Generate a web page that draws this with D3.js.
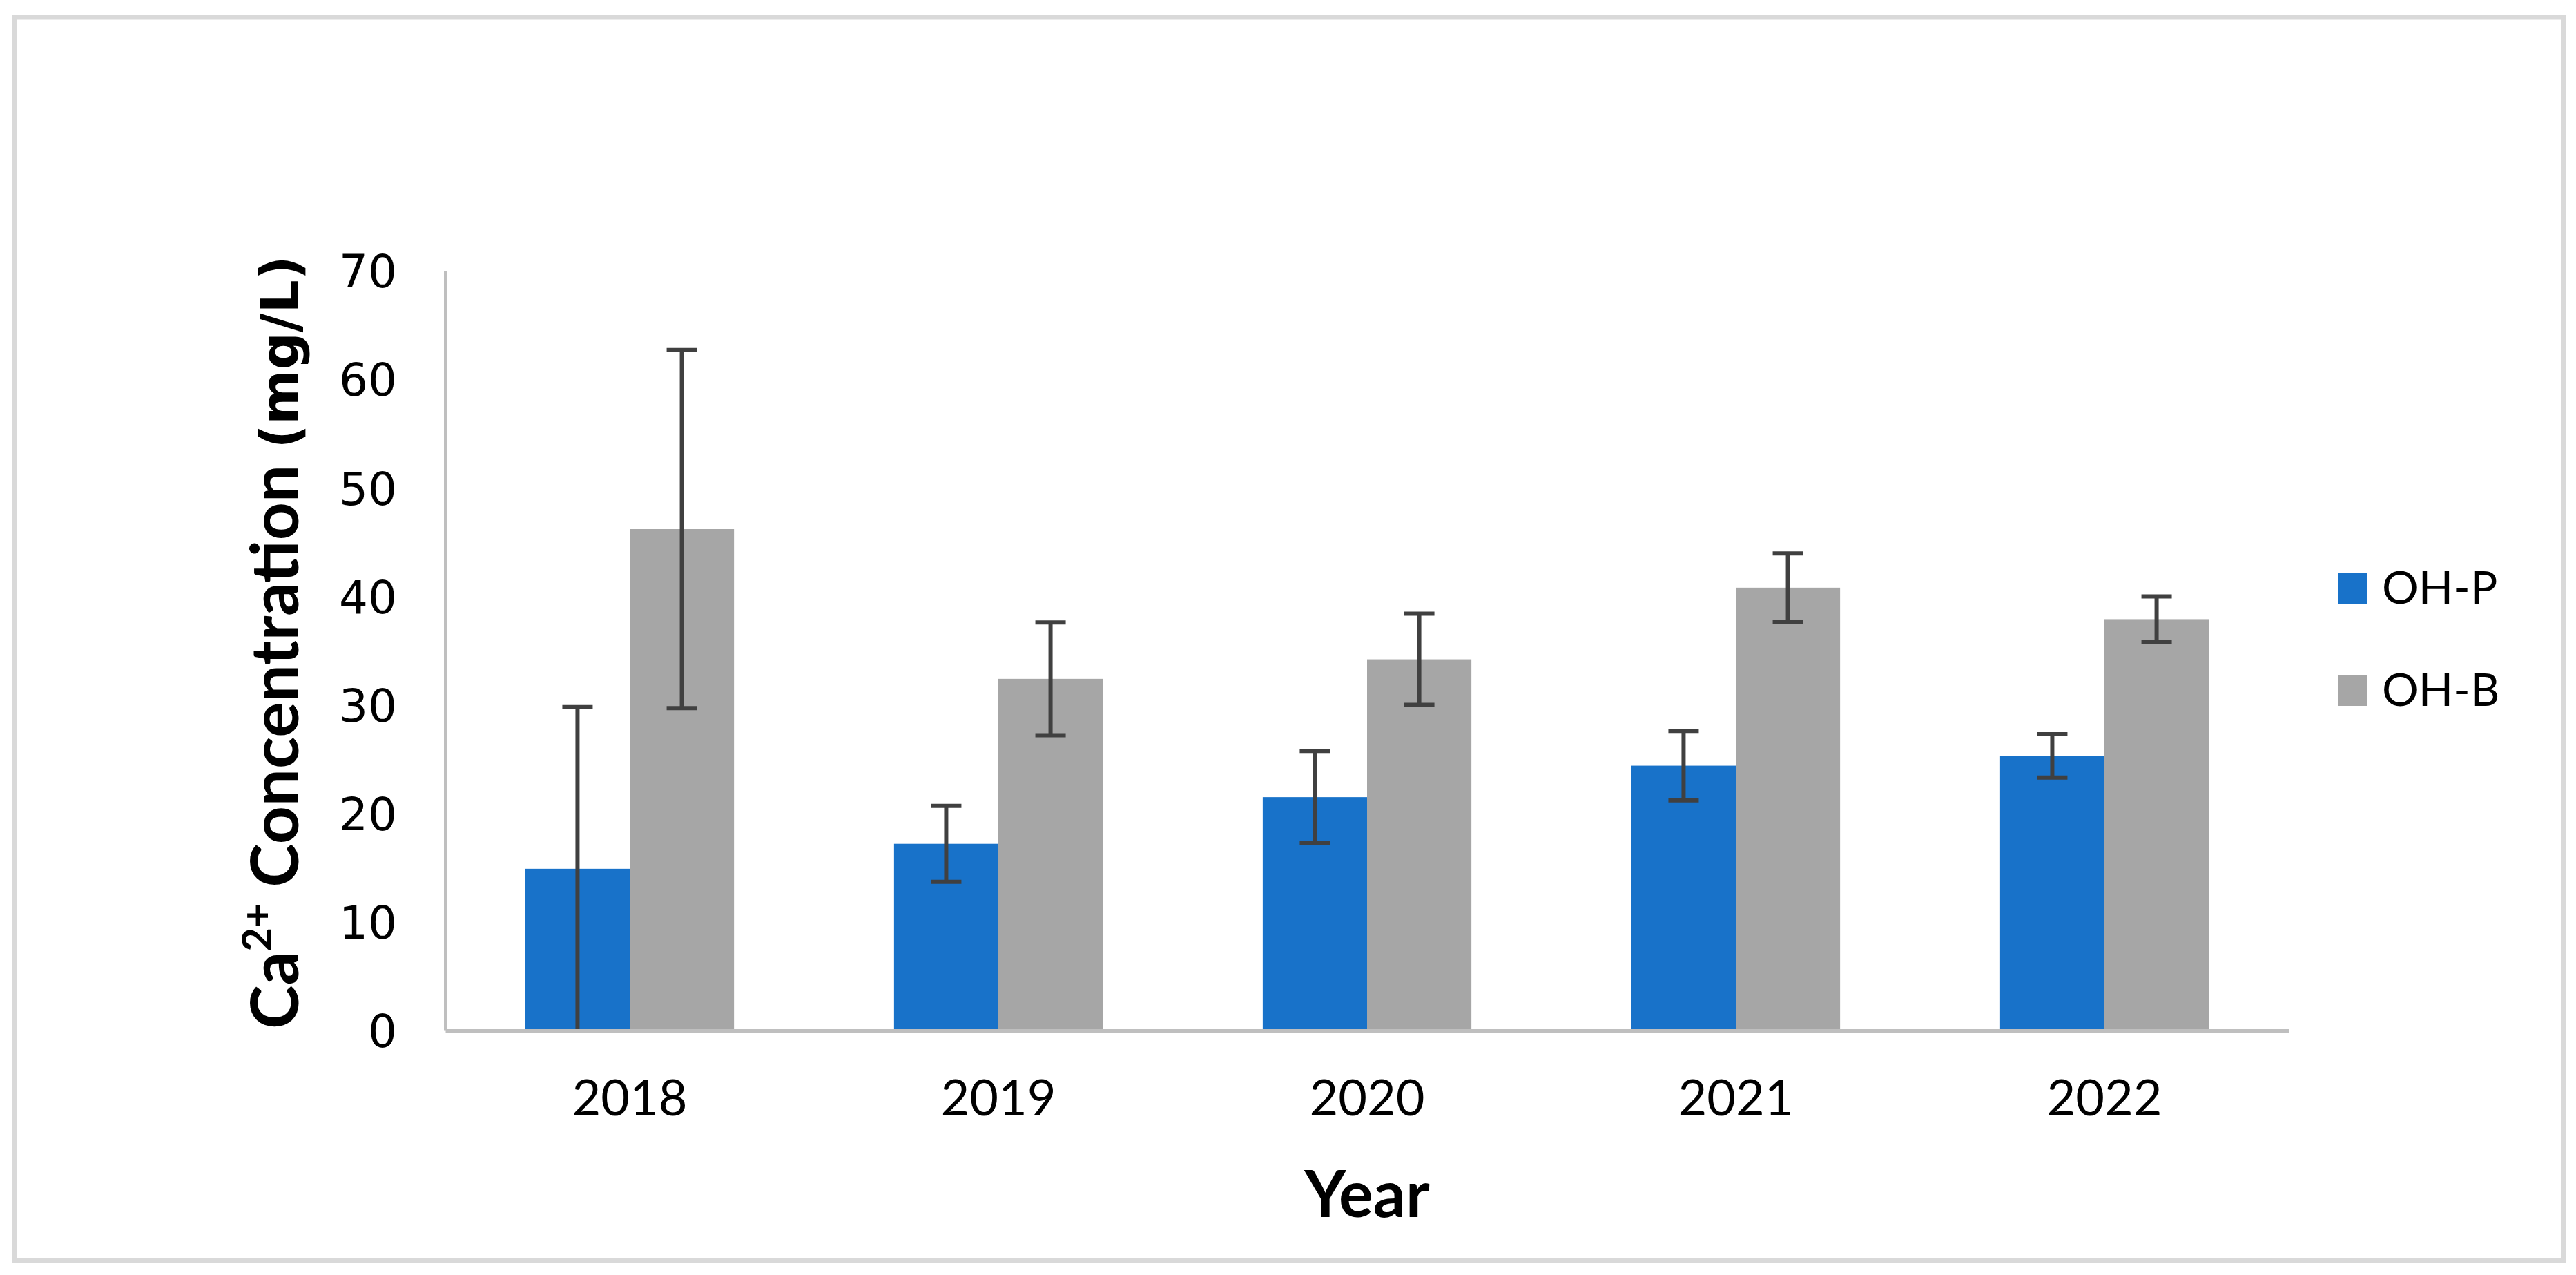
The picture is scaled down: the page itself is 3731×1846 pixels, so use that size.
<!DOCTYPE html>
<html>
<head>
<meta charset="utf-8">
<script src="https://cdn.jsdelivr.net/npm/d3@7"></script>
<style>
  html, body { margin: 0; padding: 0; background: #ffffff; }
  svg { display: block; }
</style>
</head>
<body>
<script>
// ---- data ----
const years = ["2018", "2019", "2020", "2021", "2022"];
const seriesNames = ["OH-P", "OH-B"];
const ohP = [14.9, 17.2, 21.5, 24.4, 25.3];
const ohPErr = [14.9, 3.5, 4.25, 3.2, 2.0];
const ohB = [46.2, 32.4, 34.2, 40.8, 37.9];
const ohBErr = [16.5, 5.2, 4.2, 3.15, 2.1];
const yTicks = [0, 10, 20, 30, 40, 50, 60, 70];
const seriesColors = ["#1872c9", "#a6a6a6"];

const W = 3731, H = 1846;
const plot = { left: 645, right: 3315, top: 392, bottom: 1492 };

const svg = d3.select("body").append("svg")
  .attr("width", W).attr("height", H);

svg.append("rect").attr("width", W).attr("height", H).attr("fill", "#ffffff");
// outer frame
svg.append("rect")
  .attr("x", 21.5).attr("y", 25).attr("width", 3712.5 - 21.5).attr("height", 1825.5 - 25)
  .attr("fill", "none").attr("stroke", "#d9d9d9").attr("stroke-width", 7);

const x = d3.scaleBand().domain(years).range([plot.left, plot.right])
  .paddingInner(0.434).paddingOuter(0.217);
const xs = d3.scaleBand().domain(seriesNames).range([0, x.bandwidth()]);
const y = d3.scaleLinear().domain([0, 70]).range([plot.bottom, plot.top]);

const data = [];
years.forEach((yr, i) => {
  data.push({ year: yr, s: "OH-P", v: ohP[i], e: ohPErr[i], c: seriesColors[0] });
  data.push({ year: yr, s: "OH-B", v: ohB[i], e: ohBErr[i], c: seriesColors[1] });
});

// bars
svg.append("g").selectAll("rect").data(data).join("rect")
  .attr("x", d => x(d.year) + xs(d.s))
  .attr("width", xs.bandwidth())
  .attr("y", d => y(d.v))
  .attr("height", d => y(0) - y(d.v))
  .attr("fill", d => d.c);

// error bars
const capW = 44;
const eg = svg.append("g").attr("stroke", "#404040").attr("stroke-width", 6);
data.forEach(d => {
  const cx = x(d.year) + xs(d.s) + xs.bandwidth() / 2;
  const lo = Math.max(0, d.v - d.e), hi = d.v + d.e;
  eg.append("line").attr("x1", cx).attr("x2", cx).attr("y1", y(lo)).attr("y2", y(hi));
  eg.append("line").attr("x1", cx - capW / 2).attr("x2", cx + capW / 2).attr("y1", y(hi)).attr("y2", y(hi));
  if (d.v - d.e > 0.05) {
    eg.append("line").attr("x1", cx - capW / 2).attr("x2", cx + capW / 2).attr("y1", y(lo)).attr("y2", y(lo));
  }
});

// axes
const yAxis = d3.axisLeft(y).tickValues(yTicks).tickSize(0).tickPadding(70);
const gy = svg.append("g").attr("transform", `translate(${plot.left},0)`).call(yAxis);
gy.select(".domain").attr("stroke", "#bfbfbf").attr("stroke-width", 5);
gy.selectAll("text")
  .attr("font-family", "'DejaVu Sans', sans-serif")
  .attr("font-size", 66).attr("fill", "#000").attr("dy", "0.36em");

const xAxis = d3.axisBottom(x).tickSize(0).tickPadding(0);
const gx = svg.append("g").attr("transform", `translate(0,${plot.bottom})`).call(xAxis);
gx.select(".domain").attr("stroke", "#bfbfbf").attr("stroke-width", 5);
gx.selectAll("text")
  .attr("font-family", "Lato, sans-serif")
  .attr("font-size", 72).attr("fill", "#000")
  .attr("dy", null).attr("y", 1615 - plot.bottom);

// x title
svg.append("text")
  .attr("x", (plot.left + plot.right) / 2).attr("y", 1762)
  .attr("text-anchor", "middle")
  .attr("font-family", "Lato, sans-serif").attr("font-weight", "bold")
  .attr("font-size", 93).attr("fill", "#000")
  .text("Year");

// y title
const yt = svg.append("text")
  .attr("transform", "translate(432,1490) rotate(-90)")
  .attr("font-family", "Lato, sans-serif").attr("font-weight", "bold")
  .attr("font-size", 96).attr("fill", "#000");
yt.append("tspan").text("Ca");
yt.append("tspan").attr("font-size", 60).attr("dy", -39).text("2+");
yt.append("tspan").attr("dy", 39).text(" Concentration ");
yt.append("tspan").attr("font-family", "'DejaVu Sans', sans-serif").attr("font-size", 76).text("(mg/L)");

// legend
const lg = svg.append("g");
seriesNames.forEach((s, i) => {
  const base = 874 + i * 148;
  lg.append("rect").attr("x", 3387).attr("y", base - 44).attr("width", 42).attr("height", 44)
    .attr("fill", seriesColors[i]);
  lg.append("text").attr("x", 3450).attr("y", base)
    .attr("font-family", "Lato, sans-serif").attr("font-size", 66).attr("fill", "#000")
    .text(s);
});
</script>
</body>
</html>
